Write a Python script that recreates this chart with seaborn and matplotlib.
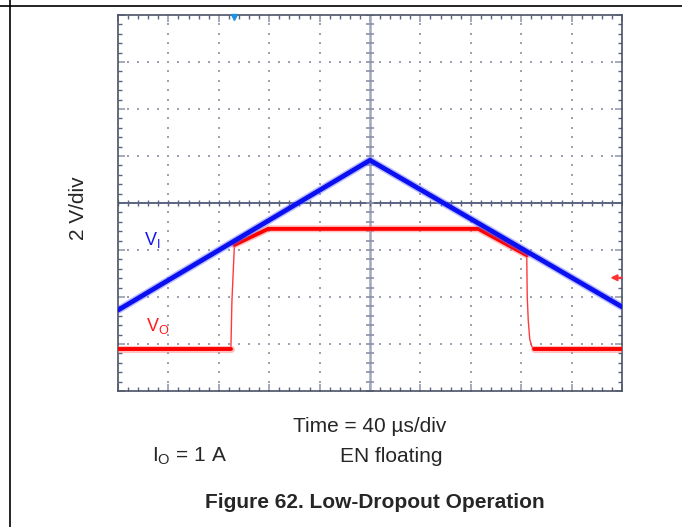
"""
Low-dropout operation scope capture (Figure 62)
"""

import matplotlib
matplotlib.use('Agg')
import matplotlib.pyplot as plt
from matplotlib.lines import Line2D
import seaborn as sns
import pandas as pd
import numpy as np

# Scope traces, in divisions (x: 0..10, y: 0..8)
vi_time = [0.0, 5.0, 10.0]
vi_level = [1.72, 4.91, 1.79]

vo_time = [0.0, 2.24, 2.26, 2.31, 2.98, 7.15, 8.11, 8.12, 8.14, 8.17, 8.21, 8.26, 10.0]
vo_level = [0.89, 0.89, 1.90, 3.11, 3.45, 3.45, 2.89, 2.00, 1.50, 1.10, 0.95, 0.90, 0.90]
# noisy (thick) stretches of the output trace; -1 = fast edge, drawn thin
vo_seg = [0, 0, -1, 1, 1, 1, 1, -1, -1, -1, -1, 2, 2]

trigger_pos = 2.30   # trigger marker on top edge
trigger_level = 2.41  # red level arrow on right edge

sns.set_style('white')
plt.rcParams['font.family'] = ['Liberation Sans', 'DejaVu Sans']
plt.rcParams['mathtext.default'] = 'regular'

W, H = 682, 527
fig = plt.figure(figsize=(W / 100, H / 100), dpi=100)
ax = fig.add_axes([118 / W, 1 - 391 / H, 504 / W, 376 / H])

ax.set_xlim(0, 10)
ax.set_ylim(0, 8)

# dotted division grid
grid_col = '#9ca2b4'
fine_x = np.arange(0, 10.01, 0.2)
fine_y = np.arange(0, 8.01, 0.2)
for yv in [1, 2, 3, 5, 6, 7]:
    ax.scatter(fine_x, np.full_like(fine_x, yv), s=1.0, marker='s', color=grid_col, lw=0, zorder=1)
for xv in [1, 2, 3, 4, 6, 7, 8, 9]:
    ax.scatter(np.full_like(fine_y, xv), fine_y, s=1.0, marker='s', color=grid_col, lw=0, zorder=1)

# center cross with ticks
ax.axhline(4, color='#5a6482', lw=1.4, zorder=2)
ax.axvline(5, color='#a2a8bc', lw=1.8, zorder=2)
ax.scatter(fine_x, np.full_like(fine_x, 4), marker='|', s=18, color='#5a6482', lw=1, zorder=2)
ax.scatter(np.full_like(fine_y, 5), fine_y, marker='_', s=30, color='#8a90a8', lw=1.2, zorder=2)

# frame ticks
ax.xaxis.set_major_locator(plt.MultipleLocator(1))
ax.yaxis.set_major_locator(plt.MultipleLocator(1))
ax.xaxis.set_minor_locator(plt.MultipleLocator(0.2))
ax.yaxis.set_minor_locator(plt.MultipleLocator(0.2))
ax.tick_params(which='both', direction='in', top=True, right=True, bottom=True, left=True,
               labelleft=False, labelbottom=False)
ax.tick_params(which='major', length=5, width=1.4, color='#a4aabb')
ax.tick_params(which='minor', length=2.6, width=1, color='#5a6480')
for sp in ax.spines.values():
    sp.set_color('#4c5266')
    sp.set_linewidth(1.2)

# traces
vi = pd.DataFrame({'t': vi_time, 'v': vi_level, 'seg': 0})
vo = pd.DataFrame({'t': vo_time, 'v': vo_level, 'seg': vo_seg})
vo_thick = vo[vo['seg'] >= 0]

sns.lineplot(data=vo, x='t', y='v', ax=ax, color='#ff3a3a', lw=1.0, estimator=None, zorder=3)
sns.lineplot(data=vo_thick, x='t', y='v', units='seg', ax=ax, color='#ff8080', lw=5.0,
             alpha=0.5, estimator=None, zorder=3)
sns.lineplot(data=vo_thick, x='t', y='v', units='seg', ax=ax, color='#ff0000', lw=2.8,
             estimator=None, zorder=3)
sns.lineplot(data=vi, x='t', y='v', ax=ax, color='#6a70ff', lw=5.5, alpha=0.45,
             estimator=None, zorder=4)
sns.lineplot(data=vi, x='t', y='v', ax=ax, color='#0a10f0', lw=3.4, estimator=None, zorder=4)

ax.set_xlabel('')
ax.set_ylabel('')

# markers
ax.plot(trigger_pos, 7.96, marker='v', color='#1e90e0', ms=5, clip_on=False, zorder=5)
ax.annotate('', xy=(9.77, trigger_level), xytext=(10.0, trigger_level),
            arrowprops=dict(arrowstyle='-|>', color='#ff3030', lw=1.4, mutation_scale=9,
                            shrinkA=0, shrinkB=0),
            annotation_clip=False, zorder=5)

# trace labels
fig.text(144 / W, 1 - 240 / H, r'V$_{I}$', color='#1414f0', fontsize=13, ha='left', va='center')
fig.text(146 / W, 1 - 326 / H, r'V$_{O}$', color='#ff1a1a', fontsize=13, ha='left', va='center')

# page text
fig.text(78 / W, 1 - 208 / H, '2 V/div', rotation=90, fontsize=15, ha='center', va='center')
fig.text(370 / W, 1 - 426 / H, 'Time = 40 \u00b5s/div', fontsize=15, ha='center', va='center')
fig.text(152 / W, 1 - 456 / H, r'I$_{O}$ = 1 A', fontsize=15, ha='left', va='center')
fig.text(340 / W, 1 - 456 / H, 'EN floating', fontsize=15, ha='left', va='center')
fig.text(375 / W, 1 - 502 / H, 'Figure 62. Low-Dropout Operation', fontsize=15,
         fontweight='bold', ha='center', va='center')

# page border lines
fig.add_artist(Line2D([0, 1], [1 - 6 / H, 1 - 6 / H], color='black', lw=1.2))
fig.add_artist(Line2D([10 / W, 10 / W], [0, 1], color='black', lw=1.2))

plt.savefig('out.png', dpi=100)
plt.close()
